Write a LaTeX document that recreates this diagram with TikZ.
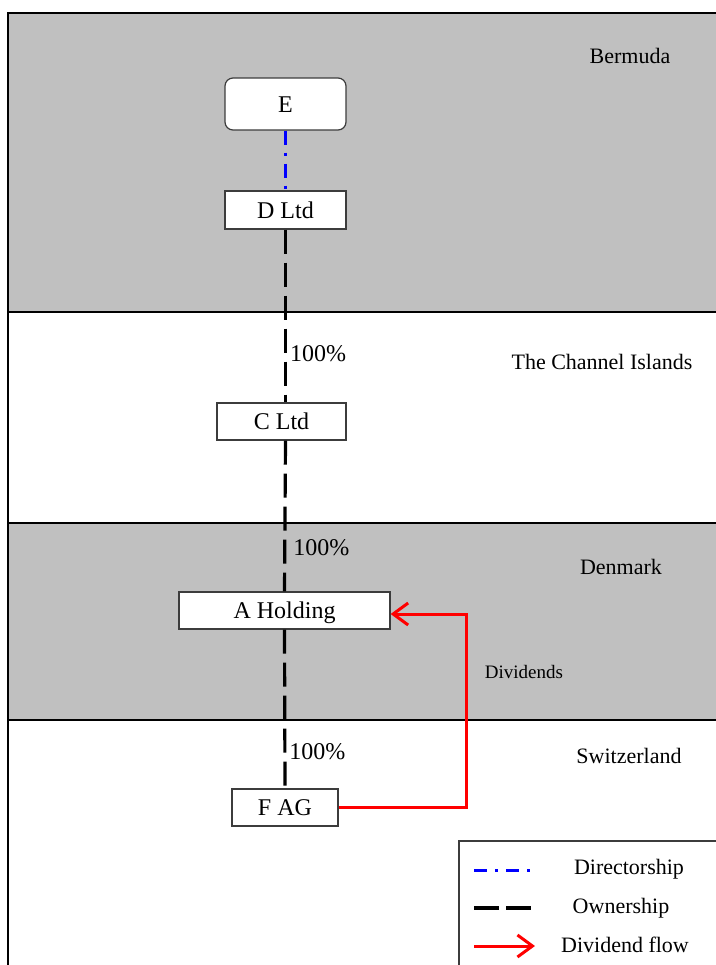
\documentclass[tikz,border=0pt]{standalone}
\usepackage{fontspec}
\setmainfont{Liberation Serif}
\usepackage{xcolor}
\usepackage{tikz}
\usetikzlibrary{positioning,calc,arrows.meta}
\definecolor{bandgray}{RGB}{192,192,192}
\definecolor{boxline}{RGB}{60,60,60}

\tikzset{
  entity/.style={draw=boxline, line width=0.6pt, fill=white, inner sep=0pt,
    text height=9pt, text depth=1pt, font=\fontsize{12}{14}\selectfont},
  director/.style={blue, line width=1.2pt, dash pattern=on 7pt off 4pt on 1.5pt off 4pt},
  owner/.style={black, line width=1.6pt, dash pattern=on 12pt off 4.5pt},
  divflow/.style={red, line width=1.5pt, -{Straight Barb[length=7.5pt,width=11pt]}},
  region/.style={font=\fontsize{11}{13}\selectfont},
  pct/.style={font=\fontsize{12}{14}\selectfont, right, inner sep=1.5pt}
}

\begin{document}
\begin{tikzpicture}[x=0.5pt, y=-0.5pt]
    \useasboundingbox (0,0) rectangle (716,965);

    % Bands
    \fill[bandgray] (8,13) rectangle (716,312);
    \fill[bandgray] (8,523) rectangle (716,720);
    \draw[line width=0.8pt] (716,13) -- (8,13) -- (8,965);
    \draw[line width=0.8pt] (8,312) -- (716,312);
    \draw[line width=0.8pt] (8,523) -- (716,523);
    \draw[line width=0.8pt] (8,720) -- (716,720);

    % Countries
    \node[region] at (630,56) {Bermuda};
    \node[region] at (602,362) {The Channel Islands};
    \node[region] at (621,567) {Denmark};
    \node[region] at (629,756) {Switzerland};

    % Entities
    \node[entity, rounded corners=4pt, minimum width=60.5pt, minimum height=26pt] (E) at (285.5,104) {E};
    \node[entity, minimum width=60.5pt, minimum height=19pt] (D) at (285.5,210) {D Ltd};
    \node[entity, minimum width=64.5pt, minimum height=18.5pt] (C) at (281.5,421.5) {C Ltd};
    \node[entity, minimum width=105.5pt, minimum height=18.5pt] (A) at (284.5,610.5) {A Holding};
    \node[entity, minimum width=53pt, minimum height=18.5pt] (F) at (285,807.5) {F AG};

    % Directorship and ownership
    \draw[director] (E.south) -- (D.north);
    \draw[owner] (D.south) -- (D.south |- C.north) node[pct, pos=0.72] {100\%};
    \draw[owner] (D.south |- C.south) -- (A.north) node[pct, pos=0.71, xshift=2pt] {100\%};
    \draw[owner] (A.south) -- (F.north) node[pct, pos=0.77] {100\%};

    % Dividends
    \draw[divflow] (F.east) -- ++(128,0) |- ($(A.east)+(0,3.5)$);
    \node[font=\fontsize{9.5}{11}\selectfont] at (524,672) {Dividends};

    % Legend
    \fill[white] (459,841) rectangle (716,965);
    \draw[line width=0.6pt, boxline] (459,965) -- (459,841) -- (716,841);
    \coordinate (l1a) at (474,870); \coordinate (l1b) at (531,870);
    \coordinate (l2a) at (474,908); \coordinate (l2b) at (531,908);
    \coordinate (l3a) at (474,946); \coordinate (l3b) at (535,946);
    \draw[director, line width=1.5pt, dash pattern=on 6.5pt off 4pt on 1.5pt off 4pt] (l1a) -- (l1b);
    \draw[owner, dash pattern=on 12.5pt off 3.5pt] (l2a) -- (l2b);
    \draw[divflow] (l3a) -- (l3b);
    \node[region] at (629,869) {Directorship};
    \node[region] at (621,908) {Ownership};
    \node[region] at (625,945) {Dividend flow};
\end{tikzpicture}
\end{document}
